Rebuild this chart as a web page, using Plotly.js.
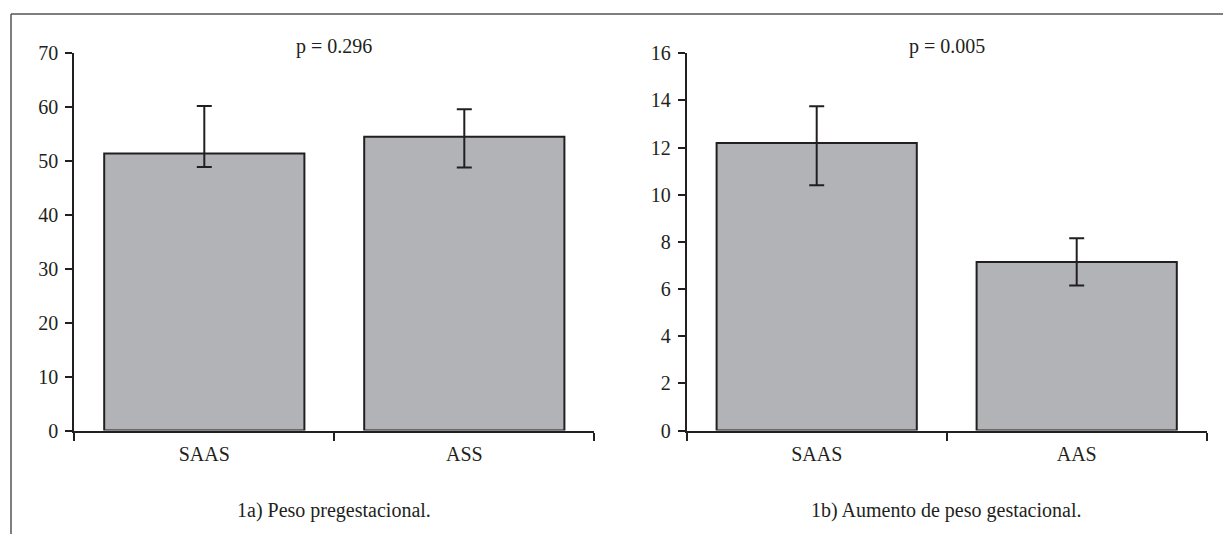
<!DOCTYPE html>
<html>
<head>
<meta charset="utf-8">
<script src="https://cdn.plot.ly/plotly-3.0.1.min.js"></script>
<style>
  html, body { margin: 0; padding: 0; background: #ffffff; }
  #chart { width: 1223px; height: 534px; }
</style>
</head>
<body>
<div id="chart"></div>
<script>
// Panel 1a) Peso pregestacional
var categoriesA = ["SAAS", "ASS"];
var meansA = [51.4, 54.5];
var errPlusA = [8.8, 5.1];
var errMinusA = [2.5, 5.7];
var pValueA = "p = 0.296";
var captionA = "1a) Peso pregestacional.";
var yTicksA = [0, 10, 20, 30, 40, 50, 60, 70];

// Panel 1b) Aumento de peso gestacional
var categoriesB = ["SAAS", "AAS"];
var meansB = [12.2, 7.15];
var errPlusB = [1.55, 1.0];
var errMinusB = [1.8, 1.0];
var pValueB = "p = 0.005";
var captionB = "1b) Aumento de peso gestacional.";
var yTicksB = [0, 2, 4, 6, 8, 10, 12, 14, 16];

var ink = "#231f20";
var barFill = "#b2b3b7";
var fontFam = "'Liberation Serif', 'Times New Roman', Times, serif";

function barTrace(cats, vals, plus, minus, xa, ya) {
  return {
    type: "bar",
    x: cats, y: vals,
    xaxis: xa, yaxis: ya,
    marker: { color: barFill, line: { color: ink, width: 2 } },
    error_y: { type: "data", symmetric: false, array: plus, arrayminus: minus,
               color: ink, thickness: 2, width: 7.5 },
    showlegend: false,
    hoverinfo: "skip"
  };
}

var data = [
  barTrace(categoriesA, meansA, errPlusA, errMinusA, "x", "y"),
  barTrace(categoriesB, meansB, errPlusB, errMinusB, "x2", "y2")
];

function xAxis(domain, anchor) {
  return {
    domain: domain, anchor: anchor,
    type: "category", range: [-0.5, 1.5],
    showline: true, linecolor: ink, linewidth: 2,
    ticks: "outside", tickson: "boundaries", ticklen: 8, tickwidth: 2, tickcolor: ink,
    ticklabelstandoff: 4,
    showgrid: false, zeroline: false,
    tickfont: { family: fontFam, size: 20, color: ink },
    fixedrange: true
  };
}
function yAxis(domain, anchor, maxV, ticks) {
  return {
    domain: domain, anchor: anchor,
    range: [0, maxV], tickvals: ticks, ticktext: ticks.map(String),
    showline: true, linecolor: ink, linewidth: 2,
    ticks: "outside", ticklen: 7, tickwidth: 2, tickcolor: ink,
    ticklabelstandoff: 3,
    showgrid: false, zeroline: false,
    tickfont: { family: fontFam, size: 20, color: ink },
    fixedrange: true
  };
}

var W = 1223, H = 534;
var yDom = [1 - 430.5 / H, 1 - 53.3 / H];
var xDomA = [74.3 / W, 594.3 / W];
var xDomB = [686.7 / W, 1206.7 / W];

var layout = {
  width: W, height: H,
  margin: { l: 0, r: 0, t: 0, b: 0 },
  paper_bgcolor: "#ffffff", plot_bgcolor: "rgba(0,0,0,0)",
  bargap: 0.23,
  font: { family: fontFam, color: ink, size: 20 },
  xaxis: xAxis(xDomA, "y"),
  yaxis: yAxis(yDom, "x", 70, yTicksA),
  xaxis2: xAxis(xDomB, "y2"),
  yaxis2: yAxis(yDom, "x2", 16, yTicksB),
  annotations: [
    { text: pValueA, xref: "paper", yref: "paper", x: (xDomA[0] + xDomA[1]) / 2, y: 1 - 47 / H,
      xanchor: "center", yanchor: "middle", showarrow: false, font: { family: fontFam, size: 20, color: ink } },
    { text: pValueB, xref: "paper", yref: "paper", x: (xDomB[0] + xDomB[1]) / 2, y: 1 - 47 / H,
      xanchor: "center", yanchor: "middle", showarrow: false, font: { family: fontFam, size: 20, color: ink } },
    { text: captionA, xref: "paper", yref: "paper", x: (xDomA[0] + xDomA[1]) / 2, y: 1 - 510 / H,
      xanchor: "center", yanchor: "middle", showarrow: false, font: { family: fontFam, size: 20, color: ink } },
    { text: captionB, xref: "paper", yref: "paper", x: (xDomB[0] + xDomB[1]) / 2, y: 1 - 510 / H,
      xanchor: "center", yanchor: "middle", showarrow: false, font: { family: fontFam, size: 20, color: ink } }
  ],
  shapes: [
    { type: "line", xref: "paper", yref: "paper", x0: 11 / W, x1: 1, y0: 1 - 14 / H, y1: 1 - 14 / H,
      line: { color: "#555555", width: 1.5 } },
    { type: "line", xref: "paper", yref: "paper", x0: 11 / W, x1: 11 / W, y0: 0, y1: 1 - 14 / H,
      line: { color: "#555555", width: 1.5 } }
  ]
};

Plotly.newPlot("chart", data, layout, { displayModeBar: false, staticPlot: true });
</script>
</body>
</html>
